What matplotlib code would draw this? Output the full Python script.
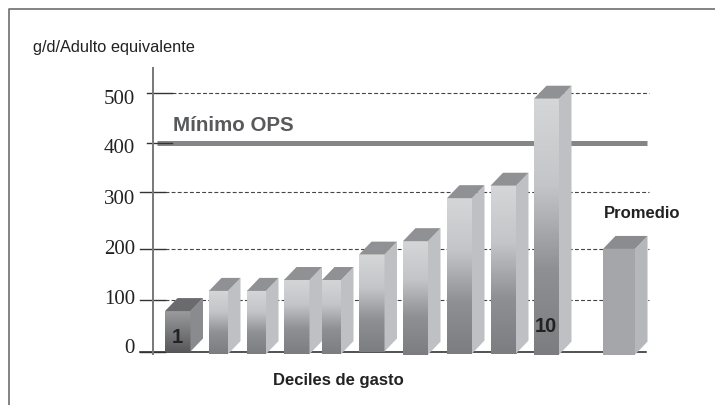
"""Grams per day per adult equivalent by spending decile, with the OPS minimum."""

import matplotlib
matplotlib.use("Agg")
import matplotlib.pyplot as plt
import numpy as np
from matplotlib.colors import LinearSegmentedColormap
from matplotlib.patches import Polygon

DECILES = ["1", "2", "3", "4", "5", "6", "7", "8", "9", "10", "Promedio"]
VALUES = [78, 117, 117, 138, 138, 187, 213, 296, 320, 488, 198]
BASES = [0, -5, -5, -5, -5, 0, -6, -4, -4, -6, -6]
OPS_MIN = 400

# value the printed gridlines actually sit at, the scan is not quite regular
TICK_LABELS = ["0", "100", "200", "300", "400", "500"]
TICK_POS = [0, 100, 198, 307, 403, 499]
LABEL_POS = [7, 102, 198, 296, 393, 488]
TICK_LEFT = [140, 140, 140, 140, 147, 147]

LEFTS = [165, 209, 247, 284, 322, 359, 403, 447, 490.5, 534, 603]
WIDTHS = [25.5, 19, 19, 25.5, 19, 25.5, 25, 25, 25.5, 25, 32]

PX_PER_UNIT = 0.518
Y0 = 352.5
DEPTH_X, DEPTH_Y = 12.5, 13 / PX_PER_UNIT


def y_of(px):
    return (Y0 - px) / PX_PER_UNIT


def bar3d(ax, left, width, base, top, cols, side, cap):
    cmap = LinearSegmentedColormap.from_list("b", cols)
    grad = np.linspace(0, 1, 128).reshape(-1, 1)
    ax.imshow(grad, extent=(left, left + width, base, top), cmap=cmap,
              aspect="auto", origin="upper", zorder=4, vmin=0, vmax=1)
    right = left + width
    ax.add_patch(Polygon([(right, base), (right + DEPTH_X, base + DEPTH_Y),
                          (right + DEPTH_X, top + DEPTH_Y), (right, top)],
                         fc=side, ec="none", zorder=4))
    ax.add_patch(Polygon([(left, top), (left + DEPTH_X, top + DEPTH_Y),
                          (right + DEPTH_X, top + DEPTH_Y), (right, top)],
                         fc=cap, ec="none", zorder=4))


def main():
    fig = plt.figure(figsize=(7.15, 4.06), dpi=100)
    ax = fig.add_axes([0, 0, 1, 1])
    ax.set_xlim(0, 715)
    ax.set_ylim(y_of(406), y_of(0))
    ax.axis("off")

    # page frame: left and top only, the scan cuts the rest
    ax.plot([8.5, 8.5, 715], [y_of(406), y_of(9.5), y_of(9.5)], color="#6e6e6e", lw=1.2)

    # grid, ticks and labels
    for pos, lab, lab_pos, tl in zip(TICK_POS, TICK_LABELS, LABEL_POS, TICK_LEFT):
        if pos > 0 and lab != "400":
            ax.plot([tl + 25, 649], [pos, pos], color="#444444", lw=0.8, ls=(0, (3.5, 2)), zorder=1)
        ax.plot([tl, tl + 25], [pos, pos], color="#333333", lw=1.0, zorder=3)
        ax.text(135, lab_pos, lab, family="Liberation Serif", fontsize=15,
                ha="right", va="center", color="#222222")
    ax.plot([140, 646], [0, 0], color="#222222", lw=1.1, zorder=2)
    ax.plot([153, 153], [y_of(355), y_of(69)], color="#77787b", lw=1.4, zorder=3)
    ax.plot([157, 647], [TICK_POS[4], TICK_POS[4]], color="#848588", lw=3.6,
            solid_capstyle="butt", zorder=2)

    for i, (left, w, base, val) in enumerate(zip(LEFTS, WIDTHS, BASES, VALUES)):
        if i == 0:
            bar3d(ax, left, w, base, val, ["#9a9b9d", "#58585a"], "#8a8b8e", "#6b6b6e")
        elif i == len(VALUES) - 1:
            bar3d(ax, left, w, base, val, ["#a5a6a9", "#a5a6a9"], "#b6b7ba", "#8b8c8f")
        else:
            bar3d(ax, left, w, base, val, ["#d5d6d8", "#c4c5c8", "#8f9094", "#7c7d81"],
                  "#bfc0c3", "#909194")

    sans = "Liberation Sans"
    ax.text(33, y_of(48), "g/d/Adulto equivalente", family=sans, fontsize=11.8,
            ha="left", va="center", color="#222222")
    ax.text(173, y_of(126), "Mínimo OPS", family=sans, fontsize=14.8, weight="bold",
            ha="left", va="center", color="#58595b")
    ax.text(642, y_of(214), DECILES[-1], family=sans, fontsize=12, weight="bold",
            ha="center", va="center", color="#222222", zorder=5)
    ax.text(338, y_of(381), "Deciles de gasto", family=sans, fontsize=12, weight="bold",
            ha="center", va="center", color="#222222")
    ax.text(177, y_of(338), DECILES[0], family=sans, fontsize=14.5, weight="bold",
            ha="center", va="center", color="#222222", zorder=5)
    ax.text(546, y_of(327), DECILES[9], family=sans, fontsize=14.5, weight="bold",
            ha="center", va="center", color="#222222", zorder=5)

    ax.set_xlim(0, 715)
    ax.set_ylim(y_of(406), y_of(0))
    fig.savefig("out.png", dpi=100)


if __name__ == "__main__":
    main()
